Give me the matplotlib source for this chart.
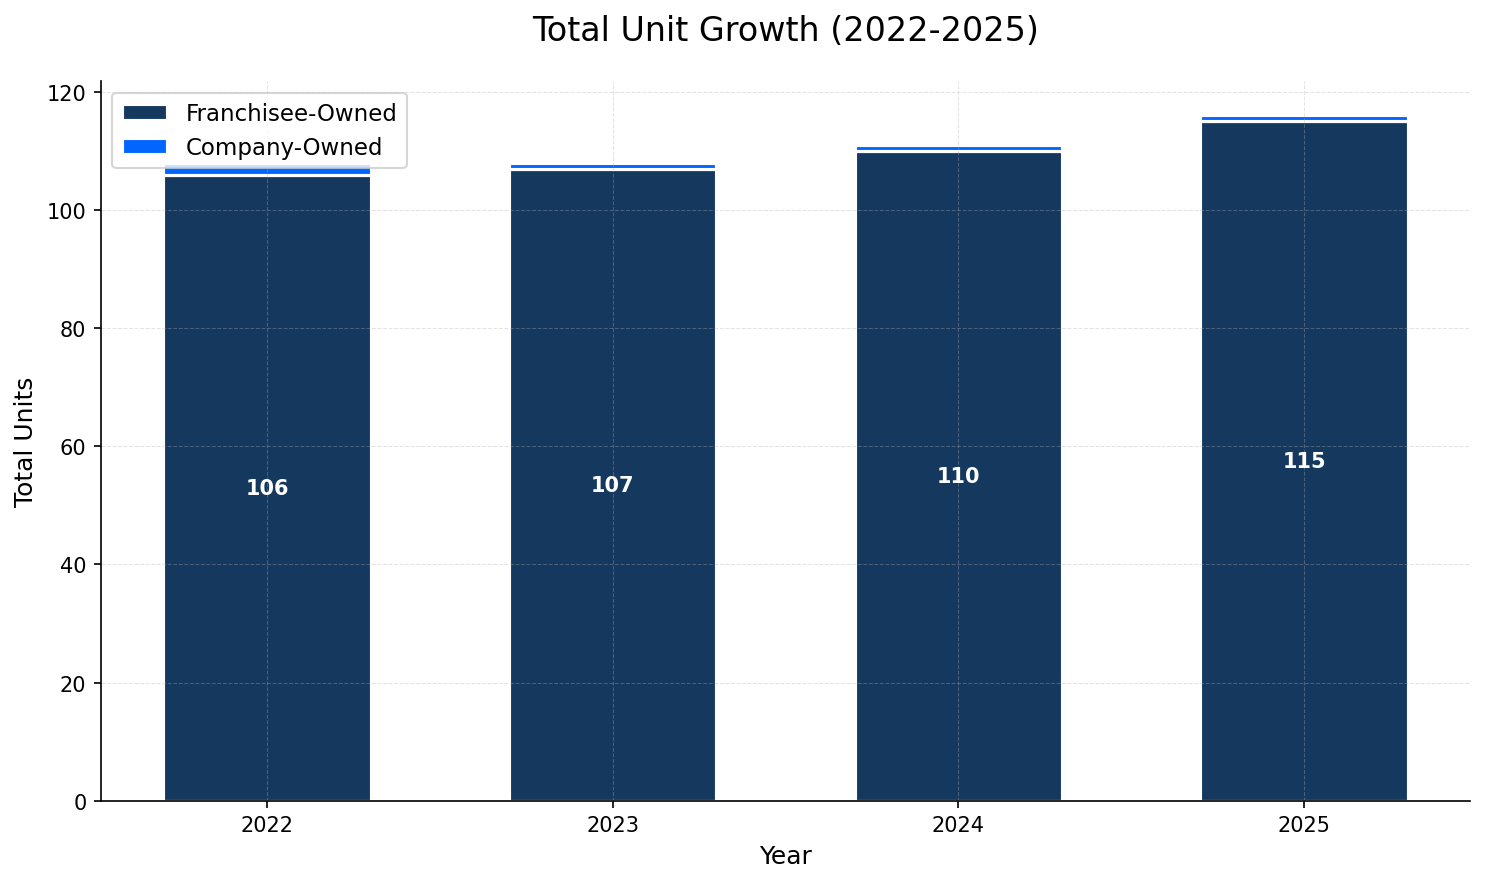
import matplotlib
matplotlib.use("Agg")
import matplotlib.pyplot as plt
import numpy as np

years = ["2022", "2023", "2024", "2025"]
franchisee = [106, 107, 110, 115]
company = [2, 1, 1, 1]

fig, ax = plt.subplots(figsize=(9.9, 5.8933), dpi=150)
x = np.arange(len(years))
ax.bar(x, franchisee, width=0.6, color="#15385f", edgecolor="white", linewidth=1.5, label="Franchisee-Owned")
ax.bar(x, company, width=0.6, bottom=franchisee, color="#0066ff", edgecolor="white", linewidth=1.5, label="Company-Owned")

for xi, v in zip(x, franchisee):
    ax.text(xi, v / 2, f"{v}", ha="center", va="center", color="white", fontsize=10, fontweight="bold")

ax.set_xticks(x)
ax.set_xticklabels(years, fontsize=10)
ax.tick_params(axis="y", labelsize=10)
ax.set_xlabel("Year", fontsize=12)
ax.set_ylabel("Total Units", fontsize=12)
ax.set_title("Total Unit Growth (2022-2025)", fontsize=16, pad=20)
ax.grid(True, linestyle="--", linewidth=0.5, alpha=0.35)
ax.spines["top"].set_visible(False)
ax.spines["right"].set_visible(False)
ax.legend(loc="upper left", fontsize=11)

fig.subplots_adjust(left=0.068, right=0.99, top=0.907, bottom=0.093)
fig.savefig("out.png", dpi=150)
